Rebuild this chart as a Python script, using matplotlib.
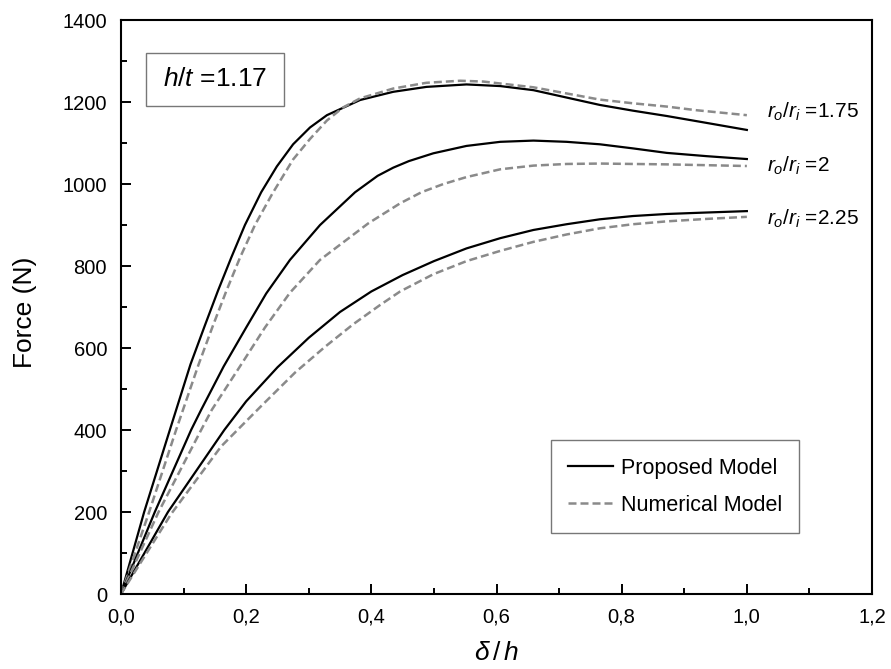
import matplotlib
matplotlib.use('Agg')
import matplotlib.pyplot as plt
from matplotlib.ticker import MultipleLocator, FuncFormatter
from matplotlib.patches import Rectangle

plt.rcParams['font.family'] = ['Liberation Sans', 'DejaVu Sans']
plt.rcParams['mathtext.fontset'] = 'custom'
plt.rcParams['mathtext.rm'] = 'Liberation Sans'
plt.rcParams['mathtext.it'] = 'Liberation Sans:italic'

# curvas forca x deslocamento, h/t = 1.17
# modelo proposto (linha cheia) e modelo numerico (tracejado)
x_p175 = [0, 0.037, 0.078, 0.111, 0.134, 0.155, 0.176, 0.198, 0.224, 0.249, 0.275, 0.302,
          0.329, 0.382, 0.435, 0.488, 0.552, 0.606, 0.659, 0.712, 0.765, 0.818, 0.872, 0.925, 1.0]
y_p175 = [0, 200, 400, 560, 655, 740, 820, 900, 980, 1043, 1097, 1138,
          1168, 1205, 1225, 1237, 1243, 1239, 1229, 1211, 1193, 1179, 1166, 1152, 1132]

x_n175 = [0, 0.045, 0.088, 0.124, 0.147, 0.168, 0.190, 0.214, 0.242, 0.275, 0.302, 0.329,
          0.355, 0.382, 0.435, 0.488, 0.542, 0.579, 0.659, 0.712, 0.765, 0.818, 0.872, 0.920, 1.0]
y_n175 = [0, 200, 400, 560, 655, 738, 820, 900, 977, 1060, 1110, 1155,
          1187, 1209, 1233, 1247, 1252, 1250, 1236, 1221, 1206, 1197, 1189, 1180, 1168]

x_p2 = [0, 0.054, 0.112, 0.128, 0.164, 0.200, 0.232, 0.270, 0.318, 0.374, 0.410, 0.435,
        0.460, 0.499, 0.552, 0.606, 0.659, 0.712, 0.765, 0.818, 0.872, 0.936, 1.0]
y_p2 = [0, 200, 400, 449, 555, 650, 733, 815, 900, 980, 1020, 1040,
        1056, 1075, 1093, 1103, 1106, 1103, 1097, 1087, 1076, 1068, 1061]

x_n2 = [0, 0.060, 0.128, 0.145, 0.190, 0.230, 0.270, 0.318, 0.395, 0.446, 0.480, 0.515,
        0.552, 0.606, 0.659, 0.712, 0.765, 0.818, 0.872, 1.0]
y_n2 = [0, 200, 400, 449, 555, 650, 735, 815, 904, 953, 980, 1000,
        1017, 1036, 1045, 1049, 1050, 1049, 1048, 1044]

x_p225 = [0, 0.075, 0.165, 0.200, 0.250, 0.300, 0.350, 0.400, 0.450, 0.500, 0.552, 0.606,
          0.659, 0.712, 0.765, 0.818, 0.872, 0.925, 1.0]
y_p225 = [0, 200, 400, 470, 553, 625, 688, 738, 778, 812, 843, 868,
          888, 902, 914, 922, 927, 930, 934]

x_n225 = [0, 0.080, 0.160, 0.225, 0.278, 0.326, 0.371, 0.414, 0.446, 0.499, 0.552, 0.606,
          0.659, 0.712, 0.765, 0.818, 0.872, 0.936, 1.0]
y_n225 = [0, 195, 360, 460, 540, 603, 658, 705, 738, 780, 812, 837,
          859, 877, 892, 902, 909, 915, 920]

rotulos = ['$r_o/r_i$ =1.75', '$r_o/r_i$ =2', '$r_o/r_i$ =2.25']
y_rotulos = [1163, 1030, 900]

fig = plt.figure(figsize=(8.91, 6.69), dpi=100)
ax = fig.add_axes([0.1358, 0.1121, 0.8429, 0.8579])

cinza = '#8a8a8a'
ax.plot(x_p175, y_p175, color='black', lw=1.6, label='Proposed Model')
ax.plot(x_n175, y_n175, color=cinza, lw=1.8, dashes=(3.2, 1.6), label='Numerical Model')
ax.plot(x_p2, y_p2, color='black', lw=1.6)
ax.plot(x_n2, y_n2, color=cinza, lw=1.8, dashes=(3.2, 1.6))
ax.plot(x_p225, y_p225, color='black', lw=1.6)
ax.plot(x_n225, y_n225, color=cinza, lw=1.8, dashes=(3.2, 1.6))

for txt, yy in zip(rotulos, y_rotulos):
    ax.text(1.032, yy, txt, fontsize=15, ha='left', va='baseline')

ax.set_xlim(0, 1.2)
ax.set_ylim(0, 1400)
ax.xaxis.set_major_locator(MultipleLocator(0.2))
ax.xaxis.set_minor_locator(MultipleLocator(0.1))
ax.yaxis.set_major_locator(MultipleLocator(200))
ax.yaxis.set_minor_locator(MultipleLocator(100))
ax.xaxis.set_major_formatter(FuncFormatter(lambda v, p: f'{v:.1f}'.replace('.', ',')))
ax.tick_params(which='both', direction='in', width=1.4, labelsize=14.5, pad=10)
ax.tick_params(which='major', length=7)
ax.tick_params(which='minor', length=4)
for s in ax.spines.values():
    s.set_linewidth(1.5)

ax.set_xlabel(r'$\delta\,/\,h$', fontsize=19, labelpad=10)
ax.set_ylabel('Force (N)', fontsize=19, labelpad=18, y=0.491)

# caixa com h/t
ax.add_patch(Rectangle((0.033, 0.85), 0.184, 0.093, transform=ax.transAxes,
                       fill=False, edgecolor='#777777', lw=1.0))
ax.text(0.125, 0.8965, '$h/t$ =1.17', transform=ax.transAxes, fontsize=19,
        ha='center', va='center')

leg = ax.legend(loc='lower left', bbox_to_anchor=(0.5726, 0.1063), borderaxespad=0,
                fontsize=15.5, handlelength=2.1, handletextpad=0.35, borderpad=0.8,
                labelspacing=0.75, fancybox=False, framealpha=1)
leg.get_frame().set_edgecolor('#777777')
leg.get_frame().set_linewidth(1.0)

fig.savefig('out.png', dpi=100)
